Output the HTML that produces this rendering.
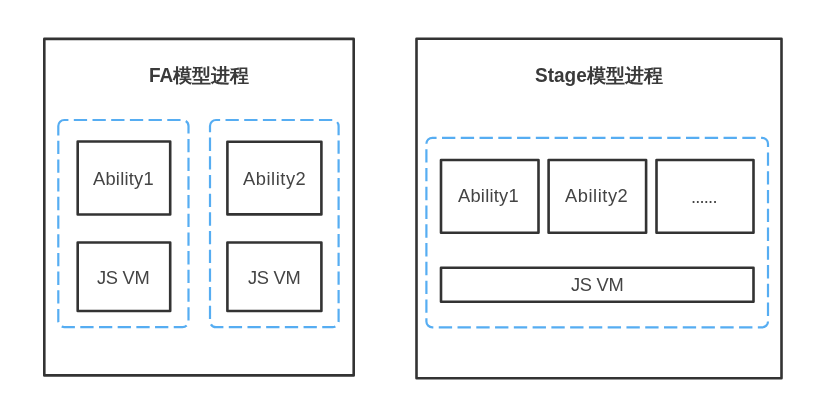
<!DOCTYPE html>
<html><head><meta charset="utf-8">
<style>
html,body{margin:0;padding:0;background:#fff;}
body{width:820px;height:411px;position:relative;overflow:hidden;font-family:"Liberation Sans",sans-serif;color:#3a3a3a;}
svg{position:absolute;left:0;top:0;}
.t{position:absolute;white-space:nowrap;line-height:1;text-align:center;will-change:transform;}
.title{font-weight:bold;font-size:19px;}
.lat{display:inline-block;transform-origin:50% 16px;transform:translateY(-0.5px) scaleY(1.1);}
.lbl{font-size:18.3px;color:#444;}
.ab{letter-spacing:0.25px;}
</style></head><body>
<svg width="820" height="411" viewBox="0 0 820 411">
<g fill="none" stroke="#333" stroke-width="2.6" stroke-linejoin="round">
<rect x="44.3" y="38.9" width="309.4" height="336.5"/>
<rect x="416.5" y="38.8" width="365" height="339.4"/>
</g>
<g fill="none" stroke="#56adf2" stroke-width="2.2">
<path stroke-dasharray="13.3 5.39" d="M58.3 126 A6 6 0 0 1 64.3 120 L182.5 120 A6 6 0 0 1 188.5 126 L188.5 321.2 A6 6 0 0 1 182.5 327.2 L64.3 327.2 A6 6 0 0 1 58.3 321.2 Z"/>
<path stroke-dasharray="13.3 5.39" d="M210 126 A6 6 0 0 1 216 120 L332.6 120 A6 6 0 0 1 338.6 126 L338.6 321.2 A6 6 0 0 1 332.6 327.2 L216 327.2 A6 6 0 0 1 210 321.2 Z"/>
<path stroke-dasharray="13.35 5.42" d="M426.4 143.8 A6 6 0 0 1 432.4 137.8 L762 137.8 A6 6 0 0 1 768 143.8 L768 321.4 A6 6 0 0 1 762 327.4 L432.4 327.4 A6 6 0 0 1 426.4 321.4 Z"/>
</g>
<g fill="none" stroke="#333" stroke-width="2.6" stroke-linejoin="round">
<rect x="77.7" y="141.5" width="92.5" height="73"/>
<rect x="77.7" y="242.5" width="92.5" height="68.5"/>
<rect x="227.4" y="141.7" width="94" height="72.7"/>
<rect x="227.4" y="242.5" width="94" height="68.5"/>
<rect x="441" y="160" width="97.5" height="72.7"/>
<rect x="548.6" y="160" width="97.5" height="72.7"/>
<rect x="656.5" y="160" width="97" height="72.7"/>
<rect x="441" y="267.8" width="312.5" height="34"/>
</g>
</svg>
<div class="t title" id="t1" style="left:149px;top:66px;"><span class="lat">FA</span>模型进程</div>
<div class="t title" id="t2" style="left:534.5px;top:66px;"><span class="lat">Stage</span>模型进程</div>
<div class="t lbl ab" id="a1" style="left:93px;top:170px;">Ability1</div>
<div class="t lbl" id="j1" style="left:97px;top:268.5px;letter-spacing:-0.3px;">JS VM</div>
<div class="t lbl ab" id="a2" style="left:242.5px;top:170px;letter-spacing:0.55px;">Ability2</div>
<div class="t lbl" id="j2" style="left:248px;top:268.5px;letter-spacing:-0.3px;">JS VM</div>
<div class="t lbl ab" id="s1" style="left:457.5px;top:187px;">Ability1</div>
<div class="t lbl ab" id="s2" style="left:565px;top:187px;letter-spacing:0.55px;">Ability2</div>
<div class="t lbl ab" id="s3" style="left:691px;top:188px;letter-spacing:-0.8px;">......</div>
<div class="t lbl" id="s4" style="left:571px;top:276px;letter-spacing:-0.3px;">JS VM</div>
</body></html>
